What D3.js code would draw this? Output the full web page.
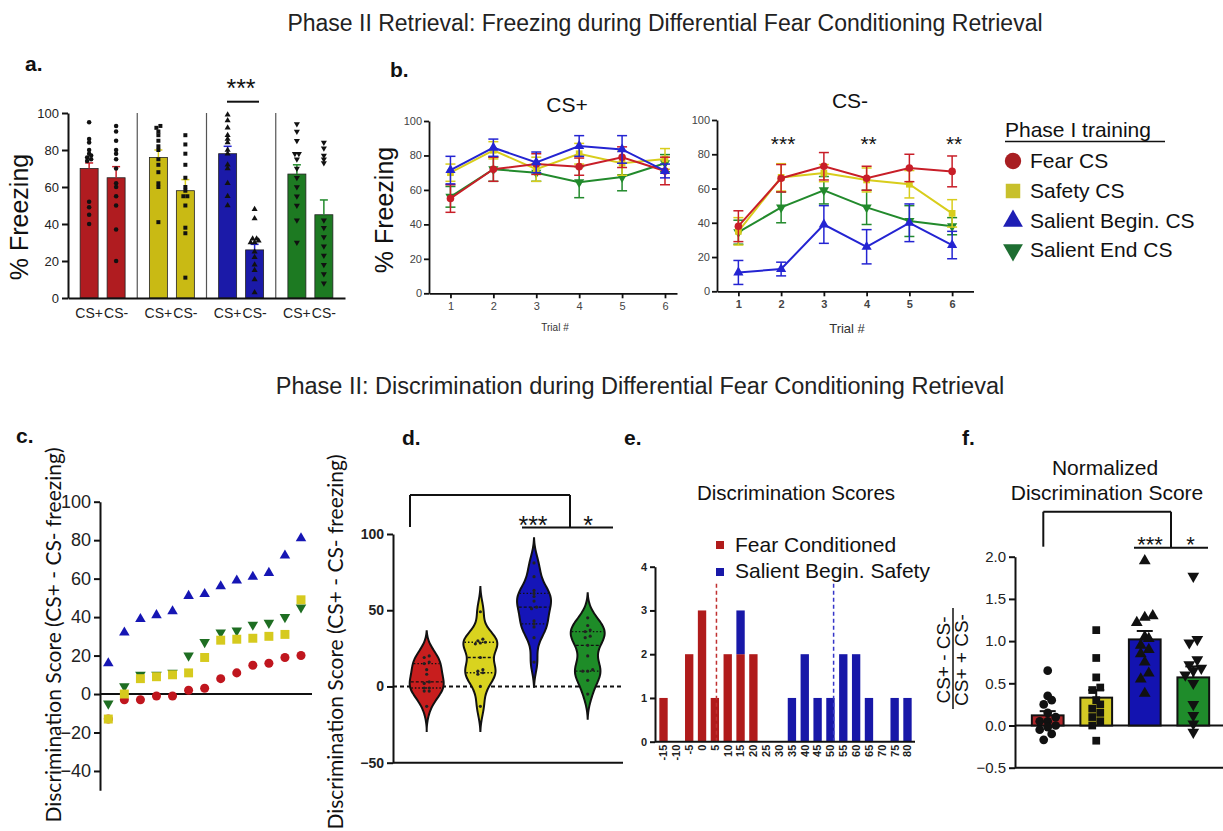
<!DOCTYPE html>
<html>
<head>
<meta charset="utf-8">
<script src="https://cdn.jsdelivr.net/npm/d3@7"></script>
<style>
  body { margin: 0; background: #fff; }
  svg { display: block; }
</style>
</head>
<body>
<svg id="fig" width="1223" height="831"></svg>
<script>
// ---- data ----
const groups = ['Fear CS', 'Safety CS', 'Salient Begin. CS', 'Salient End CS'];

// panel a: % freezing, CS+ / CS-
const aPlusMean = [70, 76, 78, 67];
const aMinusMean = [65, 58, 26, 45];
const aPlusSem = [3, 4, 4, 5];
const aMinusSem = [6, 6, 3, 8];
const aPlusPts = [
  [95, 86, 84, 80, 78, 77, 76, 75, 74, 52, 49, 45, 40],
  [92, 93, 90, 88, 85, 82, 80, 75, 72, 68, 62, 60, 41],
  [99, 96, 92, 88, 86, 84, 80, 78, 72, 70, 62, 55, 50],
  [94, 90, 85, 78, 78, 75, 70, 65, 60, 55, 50, 42, 30]
];
const aMinusPts = [
  [93, 90, 85, 80, 78, 75, 70, 62, 60, 55, 50, 37, 20],
  [88, 83, 78, 72, 65, 60, 58, 55, 55, 50, 38, 35, 11],
  [48, 43, 32, 32, 31, 30, 30, 25, 22, 18, 15, 10, 3],
  [84, 81, 77, 75, 73, 42, 38, 33, 28, 23, 18, 13, 8]
];

// panel b: trial-by-trial freezing
const trials = [1, 2, 3, 4, 5, 6];
const bPlusMean = [
  [55, 72, 75, 73.5, 79, 71],
  [70, 83, 72, 81, 75.5, 78],
  [71.5, 84.5, 76, 85.5, 83.5, 71],
  [56, 72, 70, 64.5, 67.5, 75.5]
];
const bPlusSem = [
  [8, 7, 6, 5, 6, 8],
  [5, 5, 7, 6, 7, 6],
  [8, 5, 6, 6, 8, 4],
  [6, 7, 5, 9, 8, 5]
];
const bMinusMean = [
  [38, 66, 73, 66, 72, 70],
  [35, 66.5, 69, 65, 62.5, 45.5],
  [11, 13, 39, 26, 40, 27],
  [34.5, 49, 59, 49, 41, 38]
];
const bMinusSem = [
  [9, 8, 8, 7, 8, 9],
  [8, 8, 5, 7, 8, 8],
  [7, 4, 11, 10, 11, 8],
  [7, 9, 8, 10, 9, 5]
];
const bMinusStars = ['', '***', '', '**', '', '**'];

// panel c/d: discrimination scores (ranked)
const cScores = [
  [-13, -3, -3, -1, -1, 2, 3, 8, 11, 15, 16, 19, 20],
  [-13, 0, 8, 9, 10, 11, 19, 28, 28.5, 29, 30, 31, 49],
  [16, 32, 39, 41, 43, 51, 52, 56, 59, 61, 63, 72, 81],
  [-5, 4, 10, 10, 11, 20, 27, 32, 33, 36, 37, 40, 45]
];

// panel e: histogram of discrimination scores
const eBins = [-15, -10, -5, 0, 5, 10, 15, 20, 25, 30, 35, 40, 45, 50, 55, 60, 65, 70, 75, 80];
const eFear = [1, 0, 2, 3, 1, 2, 2, 2, 0, 0, 0, 0, 0, 0, 0, 0, 0, 0, 0, 0];
const eSalient = [0, 0, 0, 0, 0, 0, 1, 0, 0, 0, 1, 2, 1, 1, 2, 2, 1, 0, 1, 1];

// panel f: normalized discrimination score
const fMean = [0.12, 0.33, 1.02, 0.57];
const fSem = [0.05, 0.09, 0.1, 0.13];
const fPts = [
  [0.65, 0.35, 0.3, 0.25, 0.15, 0.1, 0.05, 0.05, 0, -0.02, -0.05, -0.1, -0.17],
  [1.13, 0.8, 0.57, 0.45, 0.42, 0.3, 0.25, 0.2, 0.15, 0.1, 0.05, 0, -0.18],
  [1.95, 1.3, 1.28, 1.22, 1.05, 1.03, 0.95, 0.9, 0.85, 0.75, 0.62, 0.55, 0.38],
  [1.77, 1.02, 0.98, 0.78, 0.72, 0.68, 0.65, 0.6, 0.5, 0.25, 0.12, 0.02, -0.08]
];

// ---- styling ----
const FONT = '"Liberation Sans", Arial, sans-serif';
const barColors = ['#b01c20', '#c9ba14', '#1b1aa8', '#1d7a22'];
const lineColors = ['#c81e28', '#d8cd1c', '#2424d2', '#228a2c'];
const dotColors = ['#c0161e', '#d6ca1e', '#1616b4', '#1e6e22'];
const violinColors = ['#c81e1e', '#d9d31f', '#1515b8', '#1e8c28'];
const fBarColors = ['#b0262a', '#d3c925', '#1313b0', '#1f8c2b'];
const shapes = [d3.symbolCircle, d3.symbolSquare, d3.symbolTriangle, d3.symbolTriangle];
const flips = [0, 0, 0, 180];

const svg = d3.select('#fig');

function txt(x, y, s, size, o = {}) {
  const t = svg.append('text')
    .attr('x', x).attr('y', y)
    .attr('font-size', size)
    .attr('font-family', o.family || FONT)
    .attr('text-anchor', o.anchor || 'start')
    .attr('fill', o.fill || '#111')
    .text(s);
  if (o.weight) t.attr('font-weight', o.weight);
  if (o.rotate) t.attr('transform', `rotate(${o.rotate},${x},${y})`);
  return t;
}

function line(x1, y1, x2, y2, w, color, dash) {
  const l = svg.append('line')
    .attr('x1', x1).attr('y1', y1).attr('x2', x2).attr('y2', y2)
    .attr('stroke', color || '#111').attr('stroke-width', w || 2);
  if (dash) l.attr('stroke-dasharray', dash);
  return l;
}

function mark(x, y, k, size, fill) {
  return svg.append('path')
    .attr('d', d3.symbol().type(shapes[k]).size(size)())
    .attr('transform', `translate(${x},${y}) rotate(${flips[k]})`)
    .attr('fill', fill);
}

function styleAxis(g, size, o = {}) {
  g.select('.domain').attr('stroke', '#111').attr('stroke-width', o.stroke || 2);
  g.selectAll('.tick line').attr('stroke', '#111').attr('stroke-width', o.stroke || 2);
  g.selectAll('.tick text')
    .attr('font-size', size).attr('font-family', FONT)
    .attr('fill', o.fill || '#222').attr('font-weight', o.weight || 'normal');
}

// spread tied points sideways, like a scatter-dot plot
function spreadX(vals, y, cx, gap, minDy) {
  const order = d3.range(vals.length).sort((i, j) => vals[i] - vals[j]);
  const xs = [];
  let run = [];
  const flush = () => {
    run.forEach((k, n) => { xs[k] = cx + (n - (run.length - 1) / 2) * gap; });
    run = [];
  };
  order.forEach(k => {
    if (run.length && Math.abs(y(vals[k]) - y(vals[run[0]])) > minDy) flush();
    run.push(k);
  });
  flush();
  return xs;
}

function stars(x, y, s, size) {
  return txt(x, y, s, size, { anchor: 'middle' });
}

// ---- titles ----
txt(665, 31, 'Phase II Retrieval: Freezing during Differential Fear Conditioning Retrieval', 23, { anchor: 'middle', fill: '#222' });
txt(640, 394, 'Phase II: Discrimination during Differential Fear Conditioning Retrieval', 23.5, { anchor: 'middle', fill: '#222' });

const labels = [['a.', 25, 71], ['b.', 390, 77], ['c.', 16, 443], ['d.', 402, 445], ['e.', 624, 445], ['f.', 962, 445]];
labels.forEach(([s, x, y]) => txt(x, y, s, 21, { weight: 'bold' }));

// ---- panel a ----
{
  const y = d3.scaleLinear().domain([0, 100]).range([298, 113]);
  const xg = d3.scaleBand().domain(groups).range([68, 345]);
  const xb = d3.scaleBand().domain(['CS+', 'CS-']).range([0, xg.bandwidth()]).paddingInner(0.333).paddingOuter(0.45);

  groups.slice(1).forEach(g => line(xg(g), 298, xg(g), 113, 1.2, '#555'));

  groups.forEach((g, i) => {
    [['CS+', aPlusMean[i], aPlusSem[i], aPlusPts[i]], ['CS-', aMinusMean[i], aMinusSem[i], aMinusPts[i]]].forEach(([c, m, s, pts]) => {
      const x0 = xg(g) + xb(c), cx = x0 + xb.bandwidth() / 2;
      svg.append('rect').attr('x', x0).attr('y', y(m)).attr('width', xb.bandwidth()).attr('height', y(0) - y(m))
        .attr('fill', barColors[i]).attr('stroke', '#222').attr('stroke-width', 0.8);
      line(cx, y(m), cx, y(m + s), 1.5, lineColors[i]);
      line(cx - 4, y(m + s), cx + 4, y(m + s), 1.5, lineColors[i]);
      const xs = spreadX(pts, y, cx, 4, 3);
      pts.forEach((v, k) => mark(xs[k], y(v), i, 16, '#111'));
      txt(cx, 318, c, 14, { anchor: 'middle', fill: '#222' });
    });
  });

  const ay = svg.append('g').attr('transform', 'translate(68,0)')
    .call(d3.axisLeft(y).tickValues([0, 20, 40, 60, 80, 100]).tickSize(6).tickSizeOuter(0).tickPadding(3));
  styleAxis(ay, 13);
  const ax = svg.append('g').attr('transform', 'translate(0,298)')
    .call(d3.axisBottom(xg).tickSize(0).tickSizeOuter(0).tickFormat(''));
  styleAxis(ax, 13);

  txt(28, 217, '% Freezing', 25, { anchor: 'middle', rotate: -90 });
  stars(241, 97, '***', 25);
  line(227, 101.7, 259, 101.7, 2);
}

// ---- panel b ----
function trialPanel(o) {
  const x = d3.scaleLinear().domain(o.xDomain).range(o.xRange);
  const y = d3.scaleLinear().domain([0, 100]).range(o.yRange);
  o.order.forEach(i => {
    const means = o.mean[i], sems = o.sem[i];
    svg.append('path')
      .datum(trials)
      .attr('d', d3.line().x(t => x(t)).y((t, k) => y(means[k])))
      .attr('fill', 'none').attr('stroke', lineColors[i]).attr('stroke-width', 2);
    trials.forEach((t, k) => {
      const cx = x(t);
      line(cx, y(means[k] - sems[k]), cx, y(means[k] + sems[k]), 1.5, lineColors[i]);
      line(cx - 5, y(means[k] + sems[k]), cx + 5, y(means[k] + sems[k]), 1.5, lineColors[i]);
      line(cx - 5, y(means[k] - sems[k]), cx + 5, y(means[k] - sems[k]), 1.5, lineColors[i]);
      mark(cx, y(means[k]), i, 45, lineColors[i]);
    });
  });
  const ay = svg.append('g').attr('transform', `translate(${o.xRange[0]},0)`)
    .call(d3.axisLeft(y).tickValues([0, 20, 40, 60, 80, 100]).tickSize(5).tickSizeOuter(0).tickPadding(2));
  styleAxis(ay, 11, { fill: '#444', stroke: 1.8 });
  const ax = svg.append('g').attr('transform', `translate(0,${o.yRange[0]})`)
    .call(d3.axisBottom(x).tickValues(trials).tickFormat(d3.format('d')).tickSize(5).tickSizeOuter(0).tickPadding(4));
  styleAxis(ax, 11, { fill: '#444', stroke: 1.8, weight: o.boldTicks ? 'bold' : 'normal' });
  txt(o.titleX, o.titleY, o.title, 21, { anchor: 'middle' });
  txt(o.trialX, o.trialY, 'Trial #', o.trialSize, { anchor: 'middle', fill: '#333' });
  return { x, y };
}

trialPanel({
  xDomain: [0.5, 6.28], xRange: [429, 677], yRange: [293.3, 121],
  mean: bPlusMean, sem: bPlusSem, order: [3, 1, 0, 2],
  title: 'CS+', titleX: 567, titleY: 112,
  trialX: 555, trialY: 331, trialSize: 10
});
txt(393, 210, '% Freezing', 25, { anchor: 'middle', rotate: -90 });

{
  const p = trialPanel({
    xDomain: [0.5, 6.5], xRange: [717, 973.5], yRange: [291.3, 120],
    mean: bMinusMean, sem: bMinusSem, order: [3, 2, 1, 0],
    title: 'CS-', titleX: 850, titleY: 108,
    trialX: 847, trialY: 333, trialSize: 13, boldTicks: true
  });
  trials.forEach((t, k) => { if (bMinusStars[k]) stars(p.x(t) + 2, 151, bMinusStars[k], 21); });
}

// legend
txt(1005, 137, 'Phase I training', 21);
line(1005, 141.5, 1165, 141.5, 1.5);
const legendY = [168, 198, 228, 257];
const legendColors = ['#a81e22', '#c8c02c', '#1e1eb4', '#1e6e32'];
groups.forEach((g, i) => {
  mark(1013, legendY[i] - 7, i, i < 2 ? 210 : 170, legendColors[i]);
  txt(1030, legendY[i], g, 21);
});

// ---- panel c ----
{
  const y = d3.scaleLinear().domain([-50, 100]).range([790.2, 501.7]);
  const x = d3.scaleLinear().domain([1, 13]).range([108.3, 301]);
  line(100, y(0), 312, y(0), 2);
  const sizes = [64, 80, 48, 48];
  [0, 3, 1, 2].forEach(i => {
    cScores[i].forEach((v, k) => mark(x(k + 1), y(v), i, sizes[i], dotColors[i]));
  });
  const ay = svg.append('g').attr('transform', 'translate(100,0)')
    .call(d3.axisLeft(y).tickValues([-40, -20, 0, 20, 40, 60, 80, 100]).tickSize(6).tickSizeOuter(0).tickPadding(3));
  styleAxis(ay, 18);
  txt(61, 635, 'Discrimination Score (CS+ - CS- freezing)', 21, { anchor: 'middle', rotate: -90, family: 'Lato, sans-serif' });
}

// ---- panel d ----
{
  const y = d3.scaleLinear().domain([-50, 100]).range([762.7, 534]);
  const x = d3.scalePoint().domain(groups).range([426.7, 587.7]);
  const bw = 7;
  line(393, y(0), 623, y(0), 2, '#111', '4,3');
  groups.forEach((g, i) => {
    const vals = cScores[i];
    const lo = d3.min(vals) - 2.4 * bw, hi = d3.max(vals) + 2.4 * bw;
    const grid = d3.range(81).map(k => lo + (hi - lo) * k / 80);
    const raw = grid.map(v => d3.mean(vals, s => Math.exp(-0.5 * ((v - s) / bw) ** 2)));
    const base = Math.max(raw[0], raw[raw.length - 1]);
    const dens = raw.map(d => Math.max(0, d - base));
    const w = d3.scaleLinear().domain([0, d3.max(dens)]).range([0, 17]);
    const cx = x(g);
    const pts = grid.map((v, k) => ({ v, d: dens[k] }));
    svg.append('path').datum(pts)
      .attr('d', d3.area().curve(d3.curveBasis).x0(p => cx - w(p.d)).x1(p => cx + w(p.d)).y(p => y(p.v)))
      .attr('fill', violinColors[i]).attr('stroke', '#111').attr('stroke-width', 2);
    const sorted = vals.slice().sort(d3.ascending);
    const halfAt = v => {
      const k = Math.min(grid.length - 2, Math.max(0, d3.bisectLeft(grid, v) - 1));
      const t = (v - grid[k]) / (grid[k + 1] - grid[k]);
      return w(dens[k] + (dens[k + 1] - dens[k]) * t);
    };
    [0.25, 0.5, 0.75].forEach(q => {
      const v = d3.quantileSorted(sorted, q);
      line(cx - halfAt(v) + 1, y(v), cx + halfAt(v) - 1, y(v), 1.3, '#111', q === 0.5 ? '3,2' : '1.5,2');
    });
    const xs = spreadX(vals, y, cx, 5, 2.5);
    vals.forEach((v, k) => svg.append('circle').attr('cx', xs[k]).attr('cy', y(v)).attr('r', 1.6).attr('fill', '#222'));
  });
  const ay = svg.append('g').attr('transform', 'translate(393,0)')
    .call(d3.axisLeft(y).tickValues([-50, 0, 50, 100]).tickSize(6).tickSizeOuter(0).tickPadding(3));
  styleAxis(ay, 14, { weight: 'bold' });
  line(393, y(-50), 623, y(-50), 2);
  txt(343, 642, 'Discrimination Score (CS+ - CS- freezing)', 21, { anchor: 'middle', rotate: -90, family: 'Lato, sans-serif' });

  // significance brackets
  line(410, 527, 410, 495, 2);
  line(410, 495, 570, 495, 2);
  line(570, 495, 570, 527.5, 2);
  line(522, 527.5, 613, 527.5, 2);
  stars(533, 534, '***', 25);
  stars(588, 534, '*', 25);
}

// ---- panel e ----
{
  const x = d3.scaleBand().domain(eBins).range([656, 915]).paddingInner(0.35).paddingOuter(0.26);
  const y = d3.scaleLinear().domain([0, 4]).range([741.7, 566.7]);
  const xv = d3.scaleLinear().domain([eBins[0], eBins[eBins.length - 1]])
    .range([x(eBins[0]) + x.bandwidth() / 2, x(eBins[eBins.length - 1]) + x.bandwidth() / 2]);
  const rows = eBins.map((b, k) => ({ bin: b, fear: eFear[k], salient: eSalient[k] }));
  const stacked = d3.stack().keys(['fear', 'salient'])(rows);
  const eColors = { fear: '#b01b1b', salient: '#1818a8' };
  stacked.forEach(layer => {
    svg.append('g').selectAll('rect').data(layer.filter(d => d[1] > d[0])).join('rect')
      .attr('x', d => x(d.data.bin)).attr('width', x.bandwidth())
      .attr('y', d => y(d[1])).attr('height', d => y(d[0]) - y(d[1]))
      .attr('fill', eColors[layer.key]);
  });
  const fearMean = d3.mean(cScores[0]);
  const salMean = d3.mean(cScores[2]);
  line(xv(fearMean), y(0), xv(fearMean), y(3.65), 1.5, '#c03030', '4,3');
  line(xv(salMean), y(0), xv(salMean), y(3.65), 1.5, '#3535c8', '4,3');

  const ay = svg.append('g').attr('transform', 'translate(655,0)')
    .call(d3.axisLeft(y).tickValues([0, 1, 2, 3, 4]).tickFormat(d3.format('d')).tickSize(5).tickSizeOuter(0).tickPadding(3));
  styleAxis(ay, 11, { weight: 'bold' });
  const ax = svg.append('g').attr('transform', 'translate(0,741.7)')
    .call(d3.axisBottom(x).tickSize(0).tickSizeOuter(0).tickPadding(3));
  ax.select('.domain').attr('d', 'M655,0H915');
  styleAxis(ax, 11, { weight: 'bold' });
  ax.selectAll('.tick text').attr('transform', 'rotate(-90)').attr('text-anchor', 'end')
    .attr('x', -3).attr('y', 0).attr('dy', '0.35em');

  txt(796, 500, 'Discrimination Scores', 20.5, { anchor: 'middle' });
  svg.append('rect').attr('x', 716).attr('y', 541).attr('width', 8).attr('height', 8).attr('fill', eColors.fear);
  txt(735, 552, 'Fear Conditioned', 21);
  svg.append('rect').attr('x', 716).attr('y', 568).attr('width', 8).attr('height', 8).attr('fill', eColors.salient);
  txt(735, 578, 'Salient Begin. Safety', 21);
}

// ---- panel f ----
{
  const y = d3.scaleLinear().domain([-0.5, 2.0]).range([767.7, 556.7]);
  const x = d3.scaleBand().domain(groups).range([1015, 1226]).paddingInner(0.346).paddingOuter(0.347);
  line(1015, y(0), 1223, y(0), 2);
  groups.forEach((g, i) => {
    const x0 = x(g), cx = x0 + x.bandwidth() / 2;
    svg.append('rect').attr('x', x0).attr('width', x.bandwidth())
      .attr('y', y(fMean[i])).attr('height', y(0) - y(fMean[i]))
      .attr('fill', fBarColors[i]).attr('stroke', '#111').attr('stroke-width', 2);
    line(cx, y(fMean[i]), cx, y(fMean[i] + fSem[i]), 2);
    line(cx - 8, y(fMean[i] + fSem[i]), cx + 8, y(fMean[i] + fSem[i]), 2);
    const xs = spreadX(fPts[i], y, cx, 8, 7);
    fPts[i].forEach((v, k) => mark(xs[k], y(v), i, 60, '#111'));
  });
  const ay = svg.append('g').attr('transform', 'translate(1015,0)')
    .call(d3.axisLeft(y).tickValues([-0.5, 0, 0.5, 1.0, 1.5, 2.0]).tickFormat(d3.format('.1f')).tickSize(6).tickSizeOuter(0).tickPadding(3));
  styleAxis(ay, 15);
  line(1015, y(-0.5), 1223, y(-0.5), 2);

  txt(1105, 475, 'Normalized', 21, { anchor: 'middle' });
  txt(1107, 500, 'Discrimination Score', 21, { anchor: 'middle' });

  txt(950, 660, 'CS+ - CS-', 19, { anchor: 'middle', rotate: -90 });
  txt(968, 660, 'CS+ + CS-', 19, { anchor: 'middle', rotate: -90 });
  line(953, 608, 953, 709, 1.5);

  line(1043.3, 546.7, 1043.3, 511.7, 2);
  line(1043.3, 511.7, 1171, 511.7, 2);
  line(1171, 511.7, 1171, 547.7, 2);
  line(1134, 547.7, 1208, 547.7, 2);
  stars(1150, 552, '***', 22);
  stars(1190.5, 552, '*', 22);
}
</script>
</body>
</html>
